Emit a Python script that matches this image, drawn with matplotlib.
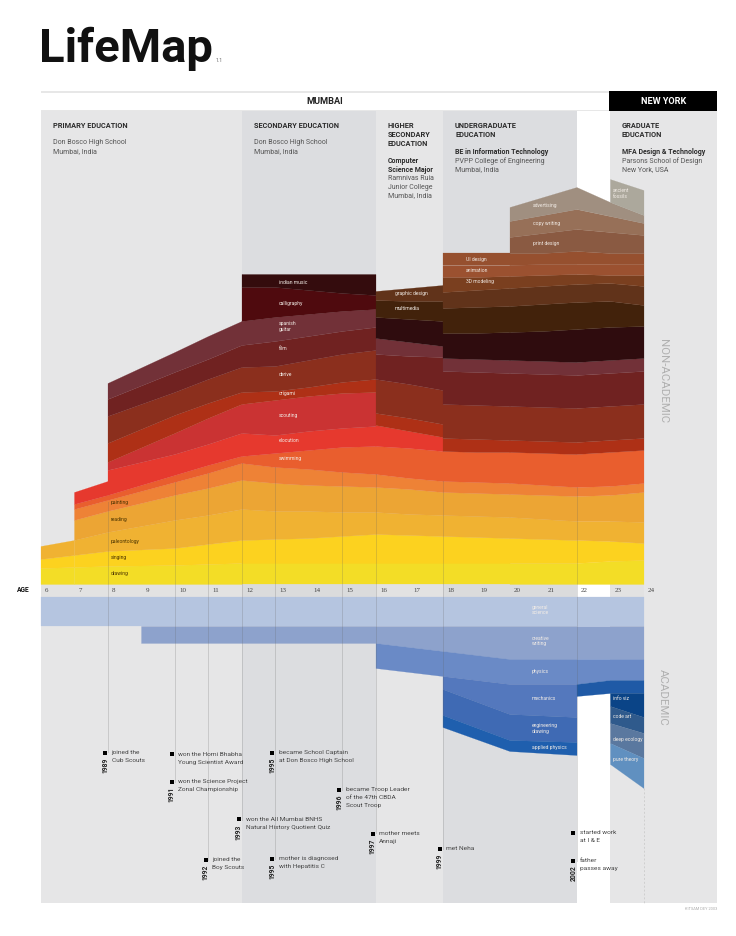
import matplotlib
matplotlib.use("Agg")
import matplotlib.pyplot as plt

plt.rcParams['font.family'] = ['Roboto', 'Liberation Sans', 'DejaVu Sans']

COL = dict(drawing='#f3dd26', singing='#fcd21f', paleontology='#f0b232', reading='#eca534',
           painting='#ee8236', swimming='#e95e2e', elocution='#e6392e', scouting='#ca3333',
           origami='#ae3016', derive='#8b2f1d', film='#702221', spanish='#723138',
           calligraphy='#4f0a0e', indian='#340c0d', dark='#2f0c0e', multimedia='#42220b',
           graphic='#61331a', modeling='#7a3f1f', animation='#9b5130', ui='#96502f',
           printd='#8a5a42', copy='#977058', advert='#a08f80', fossils='#aca89c',
           general='#b5c5e0', creative='#8da2cc', physics='#6a8ac6', mechanics='#5478bd',
           engineering='#3f6ab4', applied='#1f5fae', bridge='#1f5aa6', infoviz='#0a4487',
           codeart='#2f5a8c', ecology='#5a789f', theory='#6090c0')

# Non-academic interests: top edge of each stacked band above the age strip
ages_a = [6, 7]
tops_a = [('drawing', [16, 17]), ('singing', [25, 29]), ('paleontology', [38, 44])]
ages_b = [7, 8]
tops_b = [('drawing', [17, 18]), ('singing', [29, 33]), ('paleontology', [44, 52]), ('reading', [64, 73]),
          ('painting', [75, 84]), ('swimming', [80, 89]), ('elocution', [92, 103])]
ages_c = [8, 10, 11, 12]
tops_c = [('drawing', [18, 19, 20, 21]), ('singing', [33, 36, 40, 44]), ('paleontology', [52, 64, 69, 75]),
          ('reading', [73, 89, 96, 104]), ('painting', [84, 102, 111, 121]), ('swimming', [89, 109, 119, 128]),
          ('elocution', [114, 130, 140, 151]), ('scouting', [122, 151, 166, 180]), ('origami', [141, 169, 181, 192]),
          ('derive', [168, 192, 205, 217]), ('film', [185, 212, 225, 239]), ('spanish', [201, 232, 248, 263])]
ages_d = [12, 13, 14, 15, 16]
tops_d = [('drawing', [21, 21, 21, 21, 21]), ('singing', [44, 45, 46, 48, 50]), ('paleontology', [75, 73, 73, 72, 72]),
          ('reading', [104, 101, 99, 98, 97]), ('painting', [121, 117, 115, 112, 110]),
          ('swimming', [128, 131, 134, 137, 138]), ('elocution', [151, 149, 153, 156, 158]),
          ('scouting', [180, 184, 188, 191, 192]), ('origami', [192, 193, 197, 202, 205]),
          ('derive', [217, 218, 224, 230, 234]), ('film', [239, 243, 248, 253, 257]),
          ('spanish', [263, 267, 270, 273, 275]), ('calligraphy', [297, 297, 294, 291, 289]),
          ('indian', [310, 310, 310, 310, 310])]
ages_e = [16, 17, 18]
tops_e = [('drawing', [21, 21, 21]), ('singing', [50, 49, 48]), ('paleontology', [72, 70, 69]),
          ('reading', [97, 95, 92]), ('painting', [110, 106, 103]), ('swimming', [138, 136, 133]),
          ('elocution', [159, 153, 147]), ('origami', [171, 166, 160]), ('derive', [205, 200, 194]),
          ('film', [230, 228, 227]), ('spanish', [246, 242, 238]), ('dark', [267, 265, 263]),
          ('multimedia', [284, 283, 283]), ('graphic', [293, 296, 299])]
ages_f = [18, 19, 20]
tops_f = [('drawing', [21, 21, 21]), ('singing', [48, 47, 46]), ('paleontology', [69, 68, 67]),
          ('reading', [92, 91, 90]), ('painting', [103, 102, 101]), ('swimming', [133, 132, 132]),
          ('origami', [146, 145, 144]), ('derive', [180, 179, 178]), ('film', [213, 212, 211]),
          ('spanish', [226, 225, 224]), ('dark', [251, 251, 252]), ('multimedia', [276, 277, 278]),
          ('graphic', [292, 294, 296]), ('modeling', [307, 307, 308]), ('animation', [319, 319, 319]),
          ('ui', [331, 331, 331])]
ages_g = [20, 21, 22, 23, 24]
tops_g = [('drawing', [21, 21, 21, 23, 24]), ('singing', [46, 45, 44, 43, 41]), ('paleontology', [67, 65, 63, 63, 62]),
          ('reading', [90, 89, 88, 89, 92]), ('painting', [101, 99, 97, 98, 101]), ('swimming', [132, 131, 130, 132, 134]),
          ('origami', [144, 143, 142, 144, 146]), ('derive', [178, 177, 176, 178, 180]), ('film', [211, 210, 209, 211, 213]),
          ('spanish', [224, 223, 222, 224, 226]), ('dark', [252, 253, 255, 257, 258]),
          ('multimedia', [278, 280, 282, 283, 279]), ('graphic', [296, 298, 300, 301, 298]),
          ('modeling', [308, 309, 310, 309, 309]), ('animation', [319, 320, 320, 320, 320]),
          ('ui', [331, 331, 333, 331, 331]), ('printd', [347, 351, 355, 352, 349]),
          ('copy', [363, 369, 375, 368, 361]), ('advert', [377, 387, 397, 382, 369])]
ages_h = [23, 24]
fossils_bottom = [382, 369]
fossils_top = [405, 394]

# Academic subjects: (name, ages, upper edge depth, lower edge depth) below the age strip
academic = [
    ('general', [6, 24], [0, 0], [29, 29]),
    ('creative', [9, 16, 18, 20, 24], [29, 29, 29, 29, 29], [46, 46, 54, 62, 62]),
    ('physics', [16, 18, 20, 22, 23, 24], [46, 54, 62, 62, 62, 62], [71, 79, 87, 87, 83, 83]),
    ('mechanics', [18, 20, 22], [79, 87, 87], [92, 117, 120]),
    ('engineering', [18, 20, 22], [92, 117, 120], [118, 143, 145]),
    ('applied', [18, 20, 22], [118, 143, 145], [130, 154, 158]),
    ('bridge', [22, 23, 24], [87, 83, 83], [99, 96, 96]),
    ('infoviz', [23, 24], [96, 96], [109, 120]),
    ('codeart', [23, 24], [109, 120], [126, 136]),
    ('ecology', [23, 24], [126, 136], [146, 161]),
    ('theory', [23, 24], [146, 161], [167, 191]),
]

# Life periods shaded behind the chart
period_edges = [6, 12, 16, 18, 22, 23, 26.2]
period_colors = ['#e6e6e7', '#dcdde0', '#e6e6e7', '#dcdde0', '#ffffff', '#e6e6e7']

age_ticks = list(range(6, 25))
marker_lines = [(8, 82, 752), (10, 102, 782), (11, 111, 860), (12, 121, 820), (13, 117, 859),
                (15, 112, 790), (16, 110, 833), (18, 103, 849), (22, 97, 861)]

fig = plt.figure(figsize=(7.36, 9.36), dpi=100, facecolor='white')
ax = fig.add_axes([0, 0, 1, 1])
PX = 33.5
ax.set_xlim(6 - 40.5 / PX, 6 + (736 - 40.5) / PX)
ax.set_ylim(-352, 584)
ax.axis('off')
STRIP = -13


def X(px):
    return 6 + (px - 40.5) / PX


def Y(py):
    return 584 - py


# Backgrounds
for i, c in enumerate(period_colors):
    ax.fill_between([period_edges[i], period_edges[i + 1]], Y(903), Y(111), color=c, lw=0, zorder=0)
for i, c in enumerate(['#e2e2e2', '#dadbdc', '#e2e2e2', '#dadbdc', '#ffffff', '#e2e2e2']):
    ax.fill_between([period_edges[i], period_edges[i + 1] if i < 5 else 24], 0, STRIP, color=c, lw=0, zorder=0.5)

# Header bar
ax.fill_between([6, 22.98], Y(111), Y(91), color='#e7e7e7', lw=0, zorder=1)
ax.fill_between([6.02, 22.98], Y(110), Y(92.5), color='white', lw=0, zorder=1.1)
ax.fill_between([22.98, 26.2], Y(111), Y(91), color='black', lw=0, zorder=1.1)

# Stacked bands
for ages, tops in [(ages_a, tops_a), (ages_b, tops_b), (ages_c, tops_c), (ages_d, tops_d),
                   (ages_e, tops_e), (ages_f, tops_f), (ages_g, tops_g)]:
    lower = [0] * len(ages)
    for name, top in tops:
        ax.fill_between(ages, lower, top, color=COL[name], lw=0.15, zorder=2)
        lower = top
ax.fill_between(ages_h, fossils_bottom, fossils_top, color=COL['fossils'], lw=0.15, zorder=2)

for name, ages, upper, low in academic:
    ax.fill_between(ages, [STRIP - v for v in upper], [STRIP - v for v in low], color=COL[name], lw=0.15, zorder=2)

# Vertical event lines
for age, top, end in marker_lines:
    ax.plot([age, age], [top, Y(end)], color='#606060', alpha=0.22, lw=0.7, zorder=3)
ax.plot([24, 24], [Y(788), Y(903)], color='#cfcfcf', lw=0.7, ls=(0, (2, 2)), zorder=3)

# Age ticks
ax.text(X(17), Y(590.5), 'AGE', fontsize=4.8, fontweight='bold', va='center', color='#111111', zorder=5)
for a in age_ticks:
    ax.text(a + 4.5 / PX, Y(590.5), str(a), fontsize=5.0, va='center', family='Liberation Serif', color='#444444', zorder=5)

# Title
ax.text(X(39), Y(62), 'LifeMap', fontsize=34, fontweight='bold', va='baseline', color='#111111', zorder=5)
ax.text(X(216), Y(62.5), '1.1', fontsize=3.8, color='#666666', va='baseline', zorder=5)
ax.text(X(325), Y(101), 'MUMBAI', fontsize=6.6, fontweight='bold', ha='center', va='center', color='#222222', zorder=5)
ax.text(X(663.5), Y(101), 'NEW YORK', fontsize=6.6, fontweight='bold', ha='center', va='center', color='white', zorder=5)

HEAD = 5.3
BODY = 5.05
DK = '#2b2b2b'
BG = '#555555'
headers = [
    (53, 126, 'PRIMARY EDUCATION', True), (53, 143, 'Don Bosco High School', False), (53, 152, 'Mumbai, India', False),
    (254, 126, 'SECONDARY EDUCATION', True), (254, 143, 'Don Bosco High School', False), (254, 152, 'Mumbai, India', False),
    (388, 126, 'HIGHER', True), (388, 135, 'SECONDARY', True), (388, 144, 'EDUCATION', True),
    (388, 161, 'Computer', 'b'), (388, 170, 'Science Major', 'b'),
    (388, 179, 'Ramnivas Ruia', False), (388, 187.5, 'Junior College', False), (388, 196, 'Mumbai, India', False),
    (455, 126, 'UNDERGRADUATE', True), (455, 135, 'EDUCATION', True),
    (455, 152, 'BE in Information Technology', 'b'), (455, 161, 'PVPP College of Engineering', False), (455, 170, 'Mumbai, India', False),
    (622, 126, 'GRADUATE', True), (622, 135, 'EDUCATION', True),
    (622, 152, 'MFA Design & Technology', 'b'), (622, 161, 'Parsons School of Design', False), (622, 170, 'New York, USA', False),
]
for px, py, t, kind in headers:
    if kind is True:
        ax.text(X(px), Y(py), t, fontsize=HEAD, fontweight='bold', va='center', color=DK, zorder=5)
    elif kind == 'b':
        ax.text(X(px), Y(py), t, fontsize=BODY, fontweight='bold', va='center', color=DK, zorder=5)
    else:
        ax.text(X(px), Y(py), t, fontsize=BODY, va='center', color=BG, zorder=5)

# Band labels
light = [(279, 283, 'indian music'), (279, 303, 'calligraphy'), (279, 324, 'spanish'), (279, 330, 'guitar'),
         (279, 349, 'film'), (279, 374, 'derive'), (279, 393, 'origami'), (279, 415, 'scouting'),
         (279, 441, 'elocution'), (279, 459, 'swimming'), (395, 294, 'graphic design'), (395, 308, 'multimedia'),
         (533, 206, 'advertising'), (533, 223, 'copy writing'), (533, 244, 'print design'),
         (466, 259, 'UI design'), (466, 270, 'animation'), (466, 282, '3D modeling'),
         (613, 190, 'ancient'), (613, 196, 'fossils'),
         (532, 607, 'general'), (532, 613, 'science'), (532, 638, 'creative'), (532, 643.5, 'writing'),
         (532, 671, 'physics'), (532, 699, 'mechanics'), (532, 725, 'engineering'), (532, 731, 'drawing'),
         (532, 747, 'applied physics'), (613, 699, 'info viz'), (613, 717, 'code art'),
         (613, 739, 'deep ecology'), (613, 760, 'pure theory')]
for px, py, t in light:
    ax.text(X(px), Y(py), t, fontsize=3.6, va='center', color='#f2ece6', zorder=5)
dark_labels = [(111, 503, 'painting'), (111, 520, 'reading'), (111, 542, 'paleontology'), (111, 558, 'singing'), (111, 573, 'drawing')]
for px, py, t in dark_labels:
    ax.text(X(px), Y(py), t, fontsize=3.6, va='center', color='#4a3300', zorder=5)

# Side labels
ax.text(X(663), Y(381), 'NON-ACADEMIC', fontsize=8.2, rotation=270, ha='center', va='center', color='#b0b0b0', zorder=5)
ax.text(X(663), Y(697), 'ACADEMIC', fontsize=8.2, rotation=270, ha='center', va='center', color='#b0b0b0', zorder=5)
ax.text(X(717), Y(909.5), 'KITSAM DEY 2003', fontsize=2.8, ha='right', va='center', color='#aaaaaa', zorder=5)

# Life events
events = [
    (105, 752.7, ['joined the', 'Cub Scouts'], '1989'),
    (171.7, 754.3, ['won the Homi Bhabha', 'Young Scientist Award'], None),
    (171.7, 782, ['won the Science Project', 'Zonal Championship'], '1991'),
    (239, 819.3, ['won the All Mumbai BNHS', 'Natural History Quotient Quiz'], '1993'),
    (205.7, 860, ['joined the', 'Boy Scouts'], '1992'),
    (272.3, 752.7, ['became School Captain', 'at Don Bosco High School'], '1995'),
    (272.3, 858.7, ['mother is diagnosed', 'with Hepatitis C'], '1995'),
    (339.3, 790, ['became Troop Leader', 'of the 47th CBDA', 'Scout Troop'], '1996'),
    (372.7, 833.5, ['mother meets', 'Annaji'], '1997'),
    (439.7, 848.7, ['met Neha'], '1999'),
    (573.3, 833, ['started work', 'at I & E'], None),
    (573.3, 860.7, ['father', 'passes away'], '2002'),
]
for px, py, lines, year in events:
    ax.plot([X(px)], [Y(py)], marker='s', ms=3.3, color='black', mew=0, zorder=5)
    for k, t in enumerate(lines):
        ax.text(X(px + 6.5), Y(py + k * 7.9), t, fontsize=4.65, va='center', color='#444444', zorder=5)
    if year:
        ax.text(X(px), Y(py + 5), year, fontsize=4.9, fontweight='bold', rotation=90, ha='center', va='top', color='#222222', zorder=5)

fig.savefig('out.png', dpi=100, facecolor='white')
